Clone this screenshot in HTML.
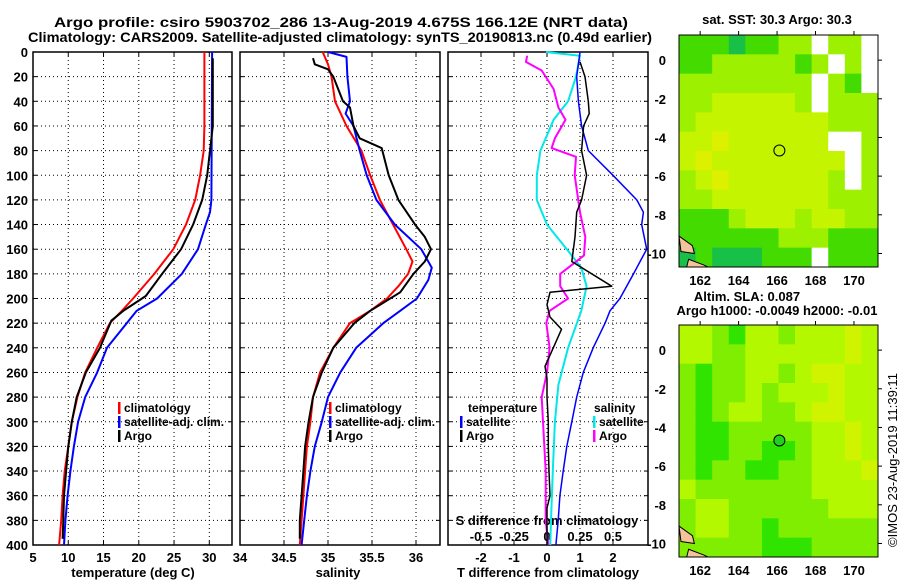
<!DOCTYPE html>
<html><head><meta charset="utf-8"><style>
html,body{margin:0;padding:0;background:#fff;}
svg{display:block;font-family:"Liberation Sans",sans-serif;font-weight:bold;}
</style></head><body>
<svg id="c" width="900" height="580" viewBox="0 0 900 580">
<text x="54" y="27" font-size="14" textLength="574" lengthAdjust="spacingAndGlyphs">Argo profile: csiro 5903702_286 13-Aug-2019 4.675S 166.12E (NRT data)</text>
<text x="28" y="42" font-size="14" textLength="624" lengthAdjust="spacingAndGlyphs">Climatology: CARS2009. Satellite-adjusted climatology: synTS_20190813.nc (0.49d earlier)</text>
</svg>
<script>
// ---- profile data ----
const tClimDepth=[0,60,80,100,120,140,160,180,200,210,220,240,260,280,300,320,340,360,380,400];
const tClimVal=[29.3,29.3,29.2,28.7,28.0,26.7,24.9,22.2,19.2,17.6,15.9,14.1,12.4,11.3,10.5,10.0,9.5,9.2,9.0,8.7];
const tArgoDepth=[5,20,60,80,100,120,140,160,180,198,210,218,240,260,280,300,320,340,360,380,395];
const tArgoVal=[30.5,30.5,30.5,30.1,29.7,29.0,27.7,26.0,23.3,21.0,17.8,16.1,14.5,12.5,11.2,10.5,10.0,9.7,9.4,9.3,9.2];
const tSatDepth=[0,120,130,140,160,180,200,210,220,240,260,280,300,320,340,360,380,400];
const tSatVal=[30.4,30.3,30.1,29.5,28.4,26.1,22.6,19.7,18.3,15.5,14.1,12.4,11.4,10.8,10.3,9.9,9.6,9.4];
const sClimDepth=[0,10,20,40,60,80,100,120,140,160,170,180,190,200,210,220,240,260,280,300,320,340,360,380,400];
const sClimVal=[34.94,35.0,35.04,35.08,35.21,35.38,35.48,35.59,35.74,35.89,35.96,35.91,35.8,35.67,35.48,35.25,35.06,34.91,34.83,34.8,34.76,34.74,34.72,34.7,34.68];
const sArgoDepth=[5,10,14,20,40,45,60,70,78,100,120,140,150,160,170,180,195,210,220,240,260,280,300,320,340,360,380,395];
const sArgoVal=[34.83,34.85,35.0,35.06,35.17,35.25,35.29,35.36,35.61,35.69,35.8,35.99,36.1,36.17,36.1,35.97,35.82,35.48,35.3,35.06,34.93,34.83,34.78,34.74,34.72,34.7,34.68,34.68];
const sSatDepth=[0,4,20,40,50,60,80,100,120,140,160,175,185,200,210,220,240,260,280,300,320,340,360,380,400];
const sSatVal=[35.0,35.21,35.22,35.25,35.2,35.29,35.36,35.44,35.55,35.76,36.06,36.18,36.14,36.01,35.82,35.63,35.32,35.14,35.0,34.93,34.85,34.8,34.76,34.73,34.7];
const dTSatDepth=[0,20,40,60,80,100,120,130,140,160,170,180,200,210,220,240,260,280,300,320,340,360,380,400];
const dTSatVal=[1.0,0.9,0.95,1.05,1.25,2.0,2.72,2.92,2.87,3.02,2.82,2.62,2.21,1.91,1.76,1.4,1.1,0.9,0.75,0.6,0.49,0.39,0.34,0.27];
const dTArgoDepth=[8,20,40,50,60,80,100,120,130,150,170,190,195,205,215,225,240,255,265,280,300,320,340,360,370,400];
const dTArgoVal=[1.0,1.15,1.25,1.28,1.11,1.05,1.2,1.05,0.9,0.85,0.75,1.96,0.09,0.0,0.09,0.44,0.19,-0.06,0.0,0.0,0.04,0.04,0.06,0.09,0.0,0.0];
const dSSatDepth=[0,3,20,40,55,80,100,120,140,160,175,190,210,240,270,300,340,380,400];
const dSSatVal=[-0.008,0.25,0.22,0.16,0.05,-0.05,-0.077,-0.077,0.0,0.15,0.26,0.3,0.26,0.16,0.086,0.06,0.044,0.03,0.025];
const dSArgoDepth=[3,8,15,30,45,55,70,78,85,100,130,150,165,180,190,200,210,220,240,260,280,300,340,380,400];
const dSArgoVal=[-0.15,-0.16,-0.04,0.05,0.086,0.14,0.06,0.035,0.22,0.21,0.25,0.29,0.28,0.1,0.1,0.16,0.02,-0.005,0.02,0.0,-0.04,-0.03,-0.01,-0.01,0.01];
const depthTicks=[0,20,40,60,80,100,120,140,160,180,200,220,240,260,280,300,320,340,360,380,400];
const tTicks=[5,10,15,20,25,30];
const sTicks=[34.5,35,35.5,36];
const sTickLabels=["34.5","35","35.5","36"];
const dTTicks=[-2,-1,0,1,2];
const dSTicks=[-0.5,-0.25,0,0.25,0.5];
// ---- map data (codes per 12x12 cell grid, top row first) ----
const sstGrid=[
[2,2,2,1,2,2,3,3,0,3,3,0],
[2,2,3,3,3,3,3,2,3,0,3,0],
[3,3,3,3,3,3,3,3,0,3,2,0],
[3,3,4,4,4,4,4,3,0,3,3,3],
[3,4,4,4,4,4,4,4,4,3,3,3],
[4,4,5,4,4,4,4,4,4,0,0,3],
[4,5,4,4,4,4,4,4,4,4,0,3],
[3,4,5,4,4,4,4,4,4,3,0,3],
[3,3,4,4,4,4,4,4,4,3,3,3],
[2,2,2,3,4,4,4,3,4,4,3,3],
[2,2,2,2,2,2,3,3,3,2,2,2],
[1,2,1,1,1,2,2,2,0,2,2,2]];
const slaGrid=[
[4,4,3,2,4,4,3,4,4,4,5,4],
[4,4,3,3,4,4,4,4,4,4,5,4],
[3,2,3,3,4,4,3,4,5,5,4,4],
[3,2,3,3,4,3,4,4,4,5,4,4],
[3,2,3,4,4,3,3,4,5,5,4,4],
[3,2,2,3,3,3,3,3,4,4,5,4],
[3,2,2,3,3,2,2,3,4,4,5,4],
[3,2,3,3,2,2,3,3,4,4,4,5],
[4,3,3,3,3,3,3,3,4,4,4,4],
[3,4,4,3,3,3,3,3,3,4,4,4],
[3,4,4,3,3,2,3,3,3,3,3,3],
[3,3,3,3,3,2,2,2,3,3,3,3]];
const sstColors=["#ffffff","#18c048","#44dc00","#9cf000","#c4f400","#dcf000"];
const slaColors=["#ffffff","#18c048","#30e400","#80ee00","#b4f800","#d0f400"];
const lonTicks=[162,164,166,168,170];
const latTicks=[0,-2,-4,-6,-8,-10];
const argoLon=166.12, argoLat=-4.675;

const NS="http://www.w3.org/2000/svg";
const svg=document.getElementById('c');
function el(tag,attrs,parent){const e=document.createElementNS(NS,tag);for(const k in attrs)e.setAttribute(k,attrs[k]);(parent||svg).appendChild(e);return e;}
const Y0=52,Y1=545;
const yD=d=>Y0+d*(Y1-Y0)/400;
function lin(d0,d1,r0,r1){return v=>r0+(v-d0)*(r1-r0)/(d1-d0);}
const xT=lin(5,30,33,209.3), xS=lin(34,36,240,416), xdT=lin(0,1,547,580), xdS=lin(0,0.25,547,580);
const panels=[{x0:33,x1:232,n:'temperature-panel'},{x0:240,x1:440,n:'salinity-panel'},{x0:448,x1:648,n:'difference-panel'}];
const gx=[tTicks.map(xT),sTicks.map(xS),dTTicks.map(xdT)];
panels.forEach((p,i)=>{
  const g=el('g',{});
  
  
  depthTicks.forEach(d=>{if(d>0&&d<400){const l=el('line',{x1:p.x0,x2:p.x1,y1:yD(d),y2:yD(d),stroke:'#000','stroke-width':1,'stroke-dasharray':'1,3'},g);
    
    
    el('line',{x1:p.x0,x2:p.x0+4,y1:yD(d),y2:yD(d),stroke:'#000'},g);el('line',{x1:p.x1-4,x2:p.x1,y1:yD(d),y2:yD(d),stroke:'#000'},g);}});
  gx[i].forEach(x=>{if(x>p.x0+1&&x<p.x1-1){const l=el('line',{x1:x,x2:x,y1:Y0,y2:Y1,stroke:'#000','stroke-width':1,'stroke-dasharray':'1,3'},g);
    
    
    el('line',{x1:x,x2:x,y1:Y0,y2:Y0+4,stroke:'#000'},g);el('line',{x1:x,x2:x,y1:Y1-4,y2:Y1,stroke:'#000'},g);}});
  const r=el('rect',{x:p.x0,y:Y0,width:p.x1-p.x0,height:Y1-Y0,fill:'none',stroke:'#000','stroke-width':1.5},g);
  
  
});
depthTicks.forEach(d=>{const t=el('text',{x:28,y:yD(d)+5,'font-size':13,'text-anchor':'end'});t.textContent=d;
  
  });
function txt(x,y,s,size,anchor,name,fill){const t=el('text',{x:x,y:y,'font-size':size,'text-anchor':anchor||'start',fill:fill||'#000'});t.textContent=s;
  
  return t;}
tTicks.forEach(v=>txt(xT(v),562,v,13,'middle','temperature-tick-label'));
txt(240,562,"34",13,'middle','salinity-tick-label');
sTicks.forEach((v,i)=>txt(xS(v),562,sTickLabels[i],13,'middle','salinity-tick-label'));
dTTicks.forEach(v=>txt(xdT(v),562,v,13,'middle','t-diff-tick-label'));
dSTicks.forEach(v=>txt(xdS(v),541,v,13,'middle','s-diff-tick-label'));
txt(133,577,"temperature (deg C)",13,'middle','temperature-axis-title');
txt(338,577,"salinity",13,'middle','salinity-axis-title');
txt(548,577,"T difference from climatology",13,'middle','t-diff-axis-title');
txt(547,525,"S difference from climatology",13,'middle','s-diff-axis-title');
function line(dep,val,xf,color,w,name){const pts=dep.map((d,i)=>xf(val[i]).toFixed(1)+','+yD(d).toFixed(1)).join(' ');
  const l=el('polyline',{points:pts,fill:'none',stroke:color,'stroke-width':w,'stroke-linejoin':'round'});
  
  }
line(tSatDepth,tSatVal,xT,'#0000ff',2,'temperature-satellite-line');
line(tClimDepth,tClimVal,xT,'#ff0000',2,'temperature-climatology-line');
line(tArgoDepth,tArgoVal,xT,'#000',2,'temperature-argo-line');
line(sClimDepth,sClimVal,xS,'#ff0000',2,'salinity-climatology-line');
line(sSatDepth,sSatVal,xS,'#0000ff',2,'salinity-satellite-line');
line(sArgoDepth,sArgoVal,xS,'#000',2,'salinity-argo-line');
line(dSSatDepth,dSSatVal,xdS,'#00e8e8',2,'s-diff-satellite-line');
line(dSArgoDepth,dSArgoVal,xdS,'#ff00ff',2,'s-diff-argo-line');
line(dTSatDepth,dTSatVal,xdT,'#0000ff',1.5,'t-diff-satellite-line');
line(dTArgoDepth,dTArgoVal,xdT,'#000',1.5,'t-diff-argo-line');
function leg(x,y,color,label,name){const r=el('rect',{x:x,y:y-10,width:2.5,height:12,fill:color});
  
  
  txt(x+6,y,label,12,'start',name);}
[[118,'#ff0000','climatology'],[118,'#0000ff','satellite-adj. clim.'],[118,'#000','Argo']].forEach((a,i)=>leg(a[0],412+i*14,a[1],a[2],'legend-entry'));
[[329,'#ff0000','climatology'],[329,'#0000ff','satellite-adj. clim.'],[329,'#000','Argo']].forEach((a,i)=>leg(a[0],412+i*14,a[1],a[2],'legend-entry'));
txt(468,412,"temperature",12,'start','legend-temperature-heading');
txt(594,412,"salinity",12,'start','legend-salinity-heading');
leg(460,426,'#0000ff','satellite','legend-entry');
leg(460,440,'#000','Argo','legend-entry');
leg(593,426,'#00e8e8','satellite','legend-entry');
leg(593,440,'#ff00ff','Argo','legend-entry');
// ---- maps ----
function drawMap(top,bot,grid,colors,name,filledMarker){
  const x0=679,x1=878,lonL=160.9,lonR=171.25,latT=1.3,latB=-10.7;
  const xL=lin(lonL,lonR,x0,x1), yL=lin(latT,latB,top,bot);
  const g=el('g',{});
  
  
  const rows=grid.length,cols=grid[0].length,cw=(x1-x0)/cols,ch=(bot-top)/rows;
  grid.forEach((row,r)=>row.forEach((v,c)=>{const cell=el('rect',{x:x0+c*cw,y:top+r*ch,width:cw+0.5,height:ch+0.5,fill:colors[v]},g);
    
    }));
  const land=el('path',{d:`M${x0} ${yL(-9.1)} L${xL(161.6)} ${yL(-9.6)} L${xL(161.7)} ${yL(-10)} L${x0+2} ${yL(-9.9)} Z M${xL(161.4)} ${yL(-10.3)} L${xL(162.2)} ${yL(-10.6)} L${xL(162.4)} ${bot} L${xL(161.3)} ${bot} Z`,fill:'#f5c39a',stroke:'#000','stroke-width':1},g);
  
  
  const m=el('circle',{cx:xL(argoLon),cy:yL(argoLat),r:5.5,fill:filledMarker?'#22d020':'none',stroke:'#000','stroke-width':1},g);
  
  
  el('rect',{x:x0,y:top,width:x1-x0,height:bot-top,fill:'none',stroke:'#000','stroke-width':1},g);
  lonTicks.forEach(v=>{el('line',{x1:xL(v),x2:xL(v),y1:top-4,y2:top,stroke:'#000'},g);
    txt(xL(v),bot+18,v,13,'middle','longitude-tick-label');});
  latTicks.forEach(v=>{el('line',{x1:x1,x2:x1+4,y1:yL(v),y2:yL(v),stroke:'#000'},g);
    txt(666,yL(v)+5,v,13,'end','latitude-tick-label');});
}
drawMap(35,267,sstGrid,sstColors,'sst-map',false);
drawMap(325,557,slaGrid,slaColors,'sla-map',true);
txt(777,24,"sat. SST: 30.3 Argo: 30.3",13,'middle','sst-map-title');
txt(747,301,"Altim. SLA: 0.087",13,'middle','sla-map-title');
txt(777,315,"Argo h1000: -0.0049 h2000: -0.01",13,'middle','sla-map-subtitle');
const cr=txt(0,0,"©IMOS 23-Aug-2019 11:39:11",13,'middle','timestamp-credit');
cr.setAttribute('font-weight','normal');
cr.setAttribute('transform','translate(897,460) rotate(-90)');
</script>
</body></html>
